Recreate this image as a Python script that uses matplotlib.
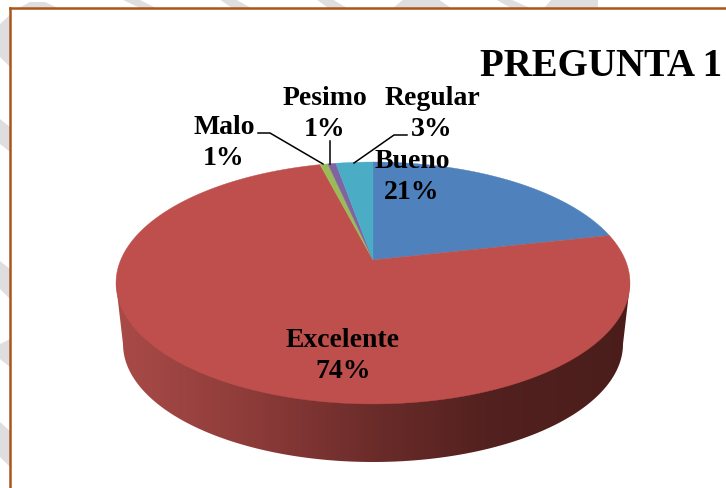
import numpy as np
import matplotlib
matplotlib.use("Agg")
import matplotlib.pyplot as plt
from matplotlib.colors import LinearSegmentedColormap
from matplotlib.patches import Polygon

plt.rcParams['font.family'] = ['Liberation Serif', 'DejaVu Serif']

# clockwise from 12 o'clock; the printed labels are rounded
categories = ['Bueno', 'Excelente', 'Malo', 'Pesimo', 'Regular']
values = [21.5, 74.5, 0.6, 0.6, 2.8]
pct_labels = ['21%', '74%', '1%', '1%', '3%']
colors = ['#4F81BD', '#BE4F4C', '#9BBB59', '#8064A2', '#4BACC6']
title = 'PREGUNTA 1'

# label centres in pixels
label_pos = {'Bueno': (412, 177), 'Excelente': (343, 356), 'Malo': (224, 143),
             'Pesimo': (325, 114), 'Regular': (432, 114)}

leaders = [([258, 270, 323], [134, 134, 165]),
           ([330, 330], [142, 165]),
           ([354, 394, 407], [164, 136, 136])]

# grey watermark stripes that show outside the frame
stripes = [[(19, 9), (30, 3), (45, 3), (58, 9)],
           [(121, 0), (138, 0), (156, 9), (140, 9)],
           [(219, 0), (235, 0), (251, 9), (232, 9)],
           [(316, 0), (332, 0), (347, 9), (328, 9)],
           [(393, 9), (404, 0), (438, 0), (451, 9)],
           [(495, 0), (510, 0), (530, 9), (511, 9)],
           [(544, 9), (552, 0), (598, 0), (598, 9)],
           [(0, 25), (10, 16), (10, 68), (0, 58)],
           [(0, 120), (10, 128), (10, 153), (0, 145)],
           [(0, 262), (10, 270), (10, 300), (0, 290)],
           [(0, 345), (10, 340), (10, 368), (0, 360)],
           [(0, 423), (10, 432), (10, 468), (0, 458)]]


def project(theta):
    # perspective view of the unit disc, theta clockwise from the top
    u, v = np.sin(theta), np.cos(theta)
    d = 1 + 0.19 * v
    return 373 + 252.3 * u / d, (261 - 67 * v) / d


fig = plt.figure(figsize=(7.26, 4.89), dpi=100)
ax = fig.add_axes([0, 0, 1, 1])
ax.set_xlim(0, 726)
ax.set_ylim(489, 0)
ax.axis('off')

for s in stripes:
    ax.add_patch(Polygon(s, closed=True, fc='#DEDEDE', ec='none', zorder=1))

ax.plot([10, 10], [489, 9], color='#A9551B', lw=1.8, zorder=2, solid_joinstyle='miter')
ax.plot([10, 726], [9, 9], color='#A9551B', lw=1.8, zorder=2, solid_joinstyle='miter')

# side wall of the pie, with the shading running left to right
t = np.linspace(np.pi, 0, 200)
wall = [(116, 285)] + list(zip(373 + 250 * np.cos(t), 345 + 118 * np.sin(t))) + [(630, 285)]
wall_patch = Polygon(wall, closed=True, fc='none', ec='none', zorder=3)
ax.add_patch(wall_patch)
shade = LinearSegmentedColormap.from_list('shade', [(0, '#A94B48'), (0.27, '#8C3B39'),
                                                   (0.5, '#6B2C2A'), (0.72, '#53211F'),
                                                   (1, '#4A1D1B')])
img = ax.imshow(np.linspace(0, 1, 256).reshape(1, -1), cmap=shade, aspect='auto',
                extent=[116, 630, 470, 280], zorder=3)
img.set_clip_path(wall_patch)
ax.set_xlim(0, 726)
ax.set_ylim(489, 0)

# top face
start = 0
for val, col in zip(values, colors):
    end = start + val / sum(values) * 2 * np.pi
    a = np.linspace(start, end, max(int(val * 8), 3))
    px, py = project(a)
    xy = [(373, 261)] + list(zip(px, py))
    ax.add_patch(Polygon(xy, closed=True, fc=col, ec=col, lw=0.3, zorder=4))
    start = end

for xs, ys in leaders:
    ax.plot(xs, ys, color='black', lw=1.1, zorder=5)

for cat, pct in zip(categories, pct_labels):
    x, y = label_pos[cat]
    ax.text(x, y, cat + '\n' + pct, ha='center', va='center', fontsize=20,
            fontweight='bold', linespacing=1.36, color='black', zorder=6)

ax.text(601, 66, title, ha='center', va='center', fontsize=28, fontweight='bold',
        color='black', zorder=6)

fig.savefig('out.png', dpi=100)
